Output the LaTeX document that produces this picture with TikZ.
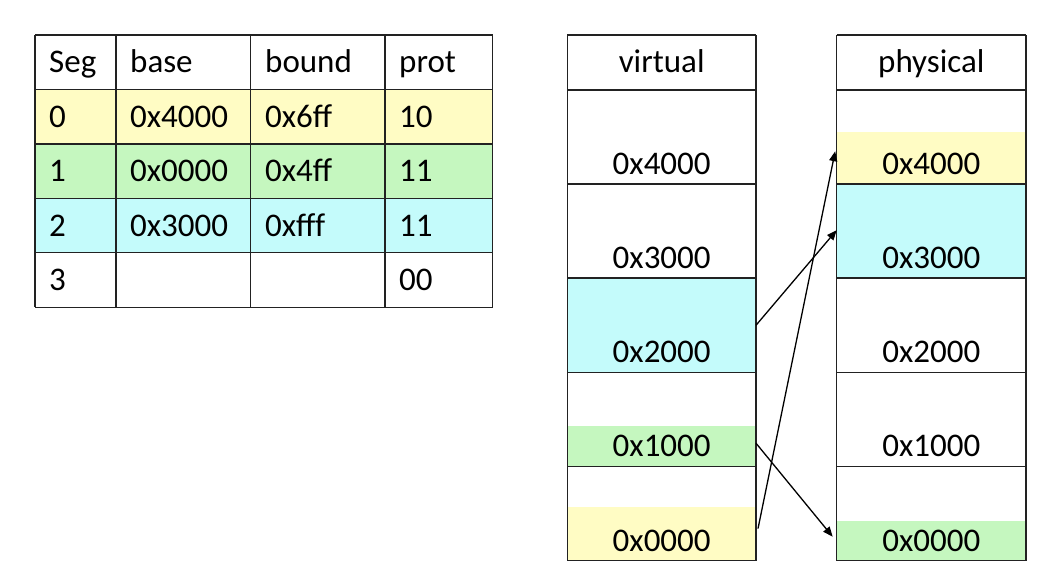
\documentclass[tikz,border=0pt]{standalone}
\usepackage{fontspec}
\setmainfont{Carlito}
\usetikzlibrary{arrows.meta}
\definecolor{segY}{HTML}{FFFCC4}
\definecolor{segG}{HTML}{C5F7BF}
\definecolor{segC}{HTML}{C4FBFB}
\definecolor{linec}{HTML}{222222}
\newcommand{\fsz}{\fontsize{33}{39}\selectfont}
\tikzset{
  cell/.style={font=\fsz, anchor=base west, inner sep=0pt},
  lab/.style={font=\fsz, anchor=base, inner sep=0pt},
  region/.style={inner sep=0pt, outer sep=0pt, anchor=north west, draw=none},
  gridl/.style={line width=1.5pt, draw=linec},
  arr/.style={line width=1.3pt, draw=black, -{Triangle[length=10pt,width=8pt]}}
}
\begin{document}
\begin{tikzpicture}[x=1pt,y=-1pt]
\useasboundingbox (0,0) rectangle (1052,584);
% ---------- table ----------
\fill[segY] (35,89.3) rectangle (492.7,144);
\fill[segG] (35,144) rectangle (492.7,198.3);
\fill[segC] (35,198.3) rectangle (492.7,252.7);
\foreach \y in {35,89.3,144,198.3,252.7,307.3} \draw[gridl] (35,\y) -- (492.7,\y);
\foreach \x in {35,116,250.7,385,492.7} \draw[gridl] (\x,35) -- (\x,307.3);
% header
\node[cell] (hseg) at (49,72.7) {Seg};
\node[cell] (hbase) at (130,72.7) {base};
\node[cell] (hbound) at (265,72.7) {bound};
\node[cell] (hprot) at (399,72.7) {prot};
% rows
\node[cell] (s0) at (49,127.4) {0};
\node[cell] (b0) at (130,127.4) {0x4000};
\node[cell] (d0) at (265,127.4) {0x6ff};
\node[cell] (p0) at (399,127.4) {10};
\node[cell] (s1) at (49,181.7) {1};
\node[cell] (b1) at (130,181.7) {0x0000};
\node[cell] (d1) at (265,181.7) {0x4ff};
\node[cell] (p1) at (399,181.7) {11};
\node[cell] (s2) at (49,236.1) {2};
\node[cell] (b2) at (130,236.1) {0x3000};
\node[cell] (d2) at (265,236.1) {0xfff};
\node[cell] (p2) at (399,236.1) {11};
\node[cell] (s3) at (49,290.7) {3};
\node[cell] (p3) at (399,290.7) {00};
% ---------- virtual ----------
\node[region, fill=segC, minimum width=188.7pt, minimum height=94.1pt] (vc) at (567.3,278.2) {};
\node[region, fill=segG, minimum width=188.7pt, minimum height=40.4pt] (vg) at (567.3,426) {};
\node[region, fill=segY, minimum width=188.7pt, minimum height=53.8pt] (vy) at (567.3,506.7) {};
\foreach \y in {35,90,184.1,278.2,372.3,466.4,560.5} \draw[gridl] (567.3,\y) -- (756,\y);
\foreach \x in {567.3,756} \draw[gridl] (\x,35) -- (\x,560.5);
\node[lab] (vhead) at (661.7,72.7) {virtual};
\node[lab] (v4) at (661.7,174.6) {0x4000};
\node[lab] (v3) at (661.7,268.7) {0x3000};
\node[lab] (v2) at (661.7,362.8) {0x2000};
\node[lab] (v1) at (661.7,456.9) {0x1000};
\node[lab] (v0) at (661.7,551) {0x0000};
% ---------- physical ----------
\node[region, fill=segY, minimum width=189.3pt, minimum height=51.8pt] (py) at (836.7,132.3) {};
\node[region, fill=segC, minimum width=189.3pt, minimum height=94.1pt] (pc) at (836.7,184.1) {};
\node[region, fill=segG, minimum width=189.3pt, minimum height=39.5pt] (pg) at (836.7,521) {};
\foreach \y in {35,90,184.1,278.2,372.3,466.4,560.5} \draw[gridl] (836.7,\y) -- (1026,\y);
\foreach \x in {836.7,1026} \draw[gridl] (\x,35) -- (\x,560.5);
\node[lab] (phead) at (931.3,72.7) {physical};
\node[lab] (q4) at (931.3,174.6) {0x4000};
\node[lab] (q3) at (931.3,268.7) {0x3000};
\node[lab] (q2) at (931.3,362.8) {0x2000};
\node[lab] (q1) at (931.3,456.9) {0x1000};
\node[lab] (q0) at (931.3,551) {0x0000};
% ---------- arrows ----------
\draw[arr] (vc.east) -- ([yshift=1pt]pc.west);
\draw[arr] ([xshift=2pt,yshift=5pt]vy.east) -- ([xshift=-1.5pt,yshift=7pt]py.west);
\draw[arr] ([yshift=3pt]vg.east) -- ([xshift=-4pt,yshift=4pt]pg.west);
\end{tikzpicture}
\end{document}
